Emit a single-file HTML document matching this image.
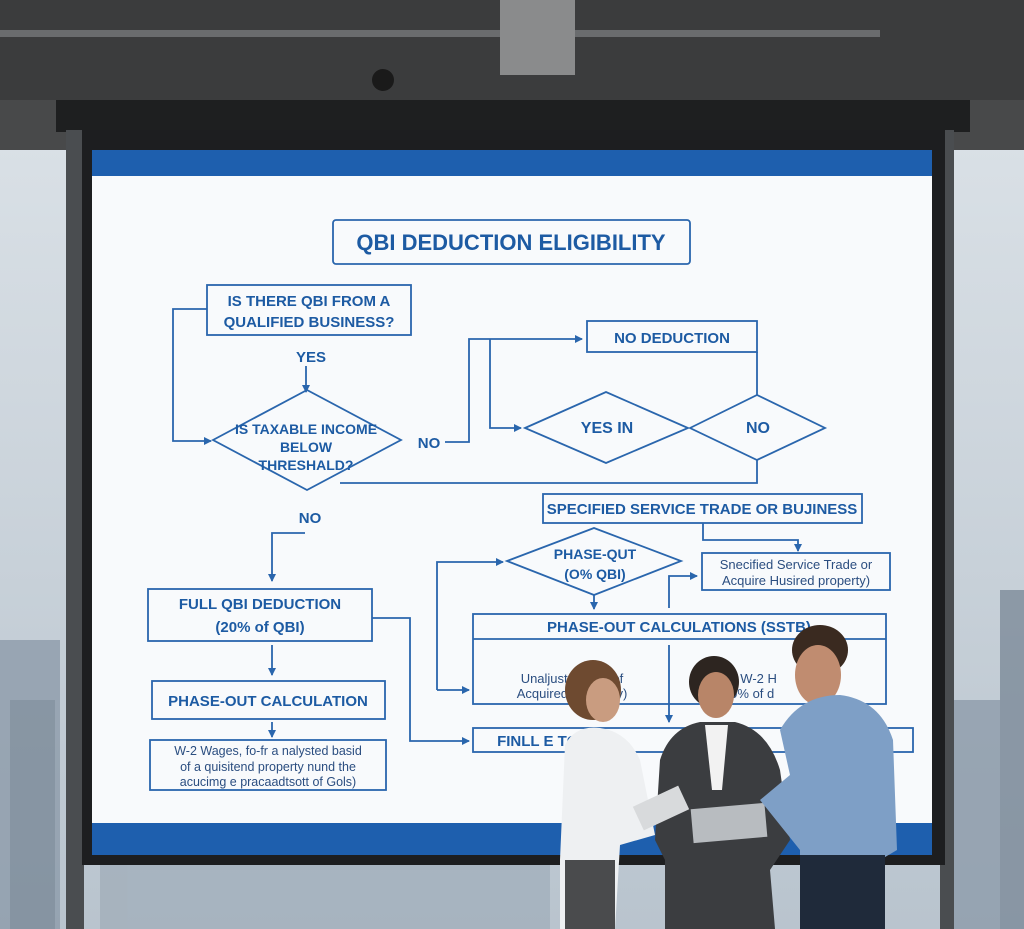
<!DOCTYPE html>
<html><head><meta charset="utf-8"><style>
html,body{margin:0;padding:0;width:1024px;height:929px;overflow:hidden;background:#cdd6de}
svg{display:block}
text{font-family:"Liberation Sans",sans-serif;fill:#1d5ba3}
</style></head><body>
<svg width="1024" height="929" viewBox="0 0 1024 929">
<defs>
<linearGradient id="win" x1="0" y1="0" x2="0" y2="1"><stop offset="0" stop-color="#dfe5ea"/><stop offset="1" stop-color="#b9c4ce"/></linearGradient>
<marker id="a" markerWidth="8" markerHeight="8" refX="7" refY="4" orient="auto" markerUnits="userSpaceOnUse"><path d="M0,0 L8,4 L0,8 z" fill="#2a66ad"/></marker>
</defs>
<rect width="1024" height="929" fill="url(#win)"/>
<!-- buildings -->
<g fill="#8e9cab" opacity="0.8">
<rect x="0" y="640" width="60" height="289"/><rect x="10" y="700" width="45" height="229" fill="#7a8998"/>
<rect x="950" y="700" width="74" height="229"/><rect x="1000" y="590" width="24" height="339" fill="#7d8b9a"/>
<rect x="100" y="860" width="450" height="69" fill="#a3afbb"/>
</g>
<!-- ceiling -->
<rect x="0" y="0" width="1024" height="100" fill="#3b3c3d"/>
<rect x="0" y="30" width="880" height="7" fill="#6a6c6e"/>
<rect x="500" y="0" width="75" height="75" fill="#8a8b8c"/>
<circle cx="383" cy="80" r="11" fill="#1a1a1a"/>
<rect x="0" y="100" width="1024" height="50" fill="#48494a"/>
<rect x="56" y="100" width="914" height="32" fill="#1e1f20"/>
<rect x="66" y="130" width="18" height="799" fill="#4a4d50"/>
<rect x="940" y="130" width="14" height="799" fill="#4a4d50"/>
<!-- screen -->
<rect x="82" y="130" width="863" height="735" fill="#1d1e20"/>
<rect x="92" y="150" width="840" height="705" fill="#f8fafc"/>
<rect x="92" y="150" width="840" height="26" fill="#1e5fae"/>
<rect x="92" y="823" width="840" height="32" fill="#1e5fae"/>
<g stroke="#2a66ad" stroke-width="1.8" fill="none">
<rect x="333" y="220" width="357" height="44" rx="3"/>
<rect x="207" y="285" width="204" height="50"/>
<line x1="306" y1="366" x2="306" y2="392" marker-end="url(#a)"/>
<polygon points="213,440 307,390 401,440 307,490"/>
<polyline points="207,309 173,309 173,441 211,441" marker-end="url(#a)"/>
<polyline points="445,442 469,442 469,339 582,339" marker-end="url(#a)"/>
<rect x="587" y="321" width="170" height="31"/>
<polyline points="490,339 490,428 521,428" marker-end="url(#a)"/>
<polygon points="525,428 606,392 688,428 606,463"/>
<polygon points="690,428 757,395 825,428 757,460"/>
<line x1="757" y1="352" x2="757" y2="395"/>
<polyline points="757,460 757,483 340,483"/>
<polyline points="305,533 272,533 272,581" marker-end="url(#a)"/>
<rect x="148" y="589" width="224" height="52"/>
<line x1="272" y1="645" x2="272" y2="675" marker-end="url(#a)"/>
<rect x="152" y="681" width="233" height="38"/>
<line x1="272" y1="722" x2="272" y2="737" marker-end="url(#a)"/>
<rect x="150" y="740" width="236" height="50"/>
<polyline points="372,618 410,618 410,741 469,741" marker-end="url(#a)"/>
<rect x="543" y="494" width="319" height="29"/>
<polyline points="703,523 703,540 798,540 798,551" marker-end="url(#a)"/>
<polygon points="507,561 594,528 681,561 594,595"/>
<polyline points="437,690 437,562 503,562" marker-end="url(#a)"/>
<line x1="437" y1="690" x2="469" y2="690" marker-end="url(#a)"/>
<rect x="702" y="553" width="188" height="37"/>
<line x1="594" y1="595" x2="594" y2="609" marker-end="url(#a)"/>
<polyline points="669,608 669,576 697,576" marker-end="url(#a)"/>
<rect x="473" y="614" width="413" height="90"/>
<line x1="473" y1="639" x2="886" y2="639"/>
<line x1="669" y1="645" x2="669" y2="722" marker-end="url(#a)"/>
<rect x="473" y="728" width="440" height="24"/>
</g>
<g font-weight="bold" text-anchor="middle">
<text x="511" y="250" font-size="22">QBI DEDUCTION ELIGIBILITY</text>
<text x="309" y="306" font-size="15">IS THERE QBI FROM A</text>
<text x="309" y="327" font-size="15">QUALIFIED BUSINESS?</text>
<text x="311" y="362" font-size="15">YES</text>
<text x="306" y="434" font-size="14">IS TAXABLE INCOME</text>
<text x="306" y="452" font-size="14">BELOW</text>
<text x="306" y="470" font-size="14">THRESHALD?</text>
<text x="429" y="448" font-size="15">NO</text>
<text x="672" y="343" font-size="15">NO DEDUCTION</text>
<text x="607" y="433" font-size="16">YES IN</text>
<text x="758" y="433" font-size="16">NO</text>
<text x="310" y="523" font-size="15">NO</text>
<text x="260" y="609" font-size="15">FULL QBI DEDUCTION</text>
<text x="260" y="632" font-size="15">(20% of QBI)</text>
<text x="268" y="706" font-size="15">PHASE-OUT CALCULATION</text>
<text x="702" y="514" font-size="15">SPECIFIED SERVICE TRADE OR BUJINESS</text>
<text x="595" y="559" font-size="14">PHASE-QUT</text>
<text x="595" y="579" font-size="14">(O% QBI)</text>
<text x="679" y="632" font-size="15">PHASE-OUT CALCULATIONS (SSTB)</text>
<text x="560" y="746" font-size="15">FINLL E  TCA SEA</text>
<text x="815" y="746" font-size="15">SEA M</text>
</g>
<g text-anchor="middle" font-size="12.5">
<text x="268" y="755" style="fill:#2b4e80">W-2 Wages, fo-fr a nalysted basid</text>
<text x="268" y="771" style="fill:#2b4e80">of a quisitend property nund the</text>
<text x="268" y="786" style="fill:#2b4e80">acucimg e pracaadtsott of Gols)</text>
<text x="796" y="569" font-size="13" style="fill:#2b4e80">Snecified Service Trade or</text>
<text x="796" y="585" font-size="13" style="fill:#2b4e80">Acquire Husired property)</text>
<text x="572" y="683" font-size="13" style="fill:#2b4e80">Unaljusted  asis of</text>
<text x="572" y="698" font-size="13" style="fill:#2b4e80">Acquired pro   perty)</text>
<text x="745" y="683" font-size="13" style="fill:#2b4e80">W-2 W-2 H</text>
<text x="745" y="698" font-size="13" style="fill:#2b4e80">200% of d</text>
</g>
<!-- people -->
<g>
<!-- woman left -->
<ellipse cx="593" cy="690" rx="28" ry="30" fill="#6e4a30"/>
<ellipse cx="603" cy="700" rx="17" ry="22" fill="#c99c80"/>
<path d="M565,745 Q575,725 600,728 Q628,732 640,760 L655,835 L620,845 L615,929 L560,929 L560,860 Z" fill="#eef0f2"/>
<rect x="565" y="860" width="50" height="69" fill="#4a4b4d"/>
<!-- woman middle -->
<ellipse cx="714" cy="682" rx="25" ry="26" fill="#2d2520"/>
<ellipse cx="716" cy="695" rx="18" ry="23" fill="#b88568"/>
<path d="M660,760 Q670,728 700,722 L735,722 Q768,730 780,770 L790,840 L770,870 L775,929 L665,929 L665,860 L655,840 Z" fill="#3b3d40"/>
<path d="M705,725 L728,725 L722,790 L712,790 Z" fill="#f2f2f2"/>
<rect x="692" y="806" width="74" height="34" fill="#b8bcc0" transform="rotate(-5 729 823)"/>
<rect x="636" y="795" width="50" height="26" fill="#d8dadc" transform="rotate(-25 661 808)"/>
<!-- man right -->
<ellipse cx="820" cy="650" rx="28" ry="25" fill="#3a2a20"/>
<ellipse cx="818" cy="675" rx="23" ry="30" fill="#c08c70"/>
<path d="M780,730 Q800,695 840,695 Q880,700 893,740 L897,850 L880,860 L880,929 L800,929 L800,850 L760,800 L790,775 Z" fill="#7e9fc6"/>
<rect x="800" y="855" width="85" height="74" fill="#1f2a3a"/>
</g>
</svg>
</body></html>
